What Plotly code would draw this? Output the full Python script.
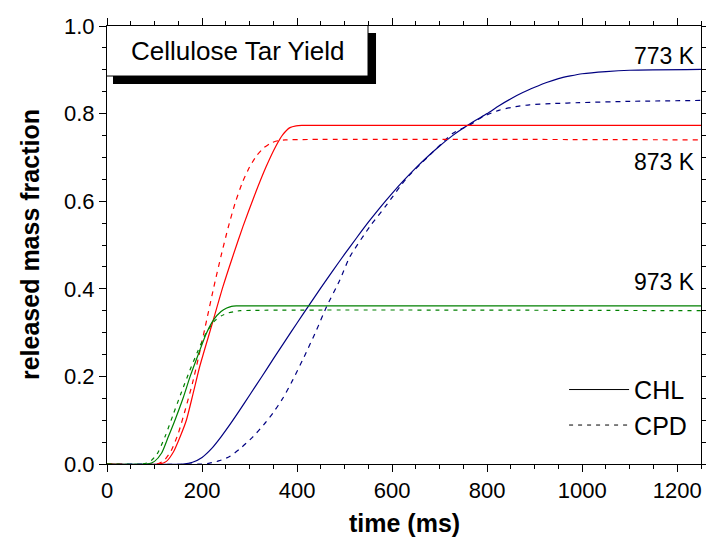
import plotly.graph_objects as go

# ---- data ----
t_973_chl = [0, 85, 100, 115, 129, 143, 160, 175, 192, 209, 225, 240, 252, 262, 272, 285, 1250]
v_973_chl = [0, 0, 0.006, 0.025, 0.062, 0.100, 0.150, 0.200, 0.250, 0.298, 0.330, 0.348, 0.356, 0.360, 0.361, 0.361, 0.361]

t_973_cpd = [0, 75, 90, 105, 122, 139, 157, 174, 192, 209, 225, 240, 255, 268, 280, 1250]
v_973_cpd = [0, 0, 0.005, 0.022, 0.062, 0.112, 0.165, 0.213, 0.260, 0.300, 0.325, 0.338, 0.345, 0.348, 0.350, 0.350]

t_873_chl = [0, 110, 125, 140, 153, 167, 181, 195, 220, 244, 265, 286, 310, 335, 355, 370, 385, 398, 410, 1250]
v_873_chl = [0, 0, 0.006, 0.028, 0.060, 0.100, 0.160, 0.222, 0.315, 0.405, 0.475, 0.542, 0.612, 0.679, 0.725, 0.752, 0.768, 0.772, 0.773, 0.773]

t_873_cpd = [0, 105, 120, 135, 150, 165, 180, 195, 210, 225, 240, 255, 270, 285, 300, 315, 330, 345, 360, 375, 1250]
v_873_cpd = [0, 0, 0.008, 0.030, 0.070, 0.125, 0.185, 0.255, 0.330, 0.405, 0.475, 0.540, 0.597, 0.643, 0.678, 0.704, 0.722, 0.733, 0.738, 0.740, 0.740]

t_773_chl = [0, 160, 180, 200, 220, 240, 260, 280, 300, 325, 350, 375, 400, 425, 450, 475, 500, 525, 550, 575, 600, 625,
             650, 675, 700, 725, 750, 775, 800, 825, 850, 875, 900, 925, 950, 975, 1000, 1050, 1100, 1250]
v_773_chl = [0, 0, 0.004, 0.015, 0.035, 0.062, 0.092, 0.124, 0.157, 0.198, 0.240, 0.281, 0.322, 0.362, 0.402, 0.441, 0.479,
             0.516, 0.552, 0.586, 0.618, 0.648, 0.676, 0.702, 0.726, 0.748, 0.767, 0.784, 0.800, 0.818, 0.834, 0.848, 0.860,
             0.871, 0.880, 0.886, 0.891, 0.896, 0.899, 0.901]

t_773_cpd = [0, 200, 216, 235, 258, 280, 307, 330, 349, 370, 391, 415, 441, 462, 490, 511, 553, 588, 630, 679, 728, 763, 791,
             826, 860, 889, 940, 994, 1100, 1250]
v_773_cpd = [0, 0, 0.002, 0.007, 0.017, 0.035, 0.062, 0.090, 0.116, 0.150, 0.192, 0.245, 0.306, 0.359, 0.420, 0.473, 0.542,
             0.591, 0.652, 0.705, 0.755, 0.774, 0.793, 0.808, 0.816, 0.820, 0.823, 0.825, 0.828, 0.830]

x_ticks = [0, 200, 400, 600, 800, 1000, 1200]
y_ticks = [0.0, 0.2, 0.4, 0.6, 0.8, 1.0]
temp_labels = ["773 K", "873 K", "973 K"]
temp_label_y = [0.9315, 0.6895, 0.4155]

GREEN = "#008000"
RED = "#ff0000"
NAVY = "#000080"
FONT = "Liberation Sans, Arial, sans-serif"

PLOT_W, PLOT_H = 594, 438  # plot-area size in px (706 - 107 - 5, 542 - 26 - 78)

fig = go.Figure()

def add_curve(t, v, color, dash):
    fig.add_trace(go.Scatter(x=t, y=v, mode="lines", showlegend=False,
                             line=dict(color=color, width=1.2, dash=dash, shape="spline", smoothing=0.6),
                             hoverinfo="skip"))

add_curve(t_773_chl, v_773_chl, NAVY, "solid")
add_curve(t_773_cpd, v_773_cpd, NAVY, "5px,5px")
add_curve(t_873_chl, v_873_chl, RED, "solid")
add_curve(t_873_cpd, v_873_cpd, RED, "5px,5px")
add_curve(t_973_chl, v_973_chl, GREEN, "solid")
add_curve(t_973_cpd, v_973_cpd, GREEN, "4px,5px")

# legend entries
fig.add_trace(go.Scatter(x=[None], y=[None], mode="lines", name="CHL",
                         line=dict(color="black", width=1)))
fig.add_trace(go.Scatter(x=[None], y=[None], mode="lines", name="CPD",
                         line=dict(color="black", width=1, dash="4px,5px")))

# crisp frame around the plot area
hx, hy = 0.5 / PLOT_W, 0.5 / PLOT_H
fig.add_shape(type="rect", xref="paper", yref="paper", x0=-hx, x1=1 + hx, y0=-hy, y1=1 + hy,
              line=dict(color="black", width=1), fillcolor="rgba(0,0,0,0)", layer="above")

# title box with shadow
fig.add_shape(type="rect", xref="paper", yref="paper", x0=0.0101, x1=0.4529, y0=0.8676, y1=0.984,
              fillcolor="black", line=dict(color="black", width=0), layer="above")
fig.add_shape(type="rect", xref="paper", yref="paper", x0=-hx, x1=0.4394, y0=0.8858, y1=1.0 + hy,
              fillcolor="white", line=dict(color="black", width=1), layer="above")
fig.add_annotation(text="Cellulose Tar Yield", xref="paper", yref="paper", x=0.2197, y=0.943,
                   showarrow=False, font=dict(family=FONT, size=26, color="black"),
                   xanchor="center", yanchor="middle")

for lab, yy in zip(temp_labels, temp_label_y):
    fig.add_annotation(text=lab, xref="paper", yref="paper", x=0.993, y=yy, showarrow=False,
                       font=dict(family=FONT, size=23, color="black"), xanchor="right", yanchor="middle")

# axis titles
fig.add_annotation(text="<b>time (ms)</b>", xref="paper", yref="paper", x=0.5, y=-0.1347, showarrow=False,
                   font=dict(family=FONT, size=25, color="black"), xanchor="center", yanchor="middle")
fig.add_annotation(text="<b>released mass fraction</b>", xref="paper", yref="paper", x=-0.1296, y=0.5,
                   showarrow=False, textangle=-90,
                   font=dict(family=FONT, size=25, color="black"), xanchor="center", yanchor="middle")

fig.update_layout(
    width=706, height=542,
    margin=dict(l=107, r=5, t=26, b=78),
    paper_bgcolor="white", plot_bgcolor="white",
    font=dict(family=FONT, color="black"),
    showlegend=True,
    legend=dict(x=0.985, y=0.037, xanchor="right", yanchor="bottom", bgcolor="rgba(0,0,0,0)",
                font=dict(family=FONT, size=25, color="black"), itemwidth=60, tracegroupgap=0),
    xaxis=dict(range=[0, 1250], tickvals=x_ticks, ticktext=[str(v) for v in x_ticks],
               ticks="outside", ticklen=7, tickwidth=1, tickcolor="black",
               showline=True, linecolor="black", linewidth=1, mirror="ticks",
               showgrid=False, zeroline=False, automargin=False,
               tickfont=dict(family=FONT, size=22, color="black"),
               minor=dict(dtick=50, tick0=0, ticks="outside", ticklen=4, tickcolor="black", showgrid=False)),
    yaxis=dict(range=[0, 1.0], tickvals=y_ticks, ticktext=[f"{v:.1f}" for v in y_ticks],
               ticks="outside", ticklen=7, tickwidth=1, tickcolor="black",
               showline=True, linecolor="black", linewidth=1, mirror="ticks",
               showgrid=False, zeroline=False, automargin=False,
               tickfont=dict(family=FONT, size=22, color="black"),
               minor=dict(dtick=0.05, tick0=0, ticks="outside", ticklen=4, tickcolor="black", showgrid=False)),
)

# remove the default page margin so the figure fills the window exactly
fig.write_html("out.html", config={"displayModeBar": False},
               post_script="document.body.style.margin='0';document.body.style.overflow='hidden';")
